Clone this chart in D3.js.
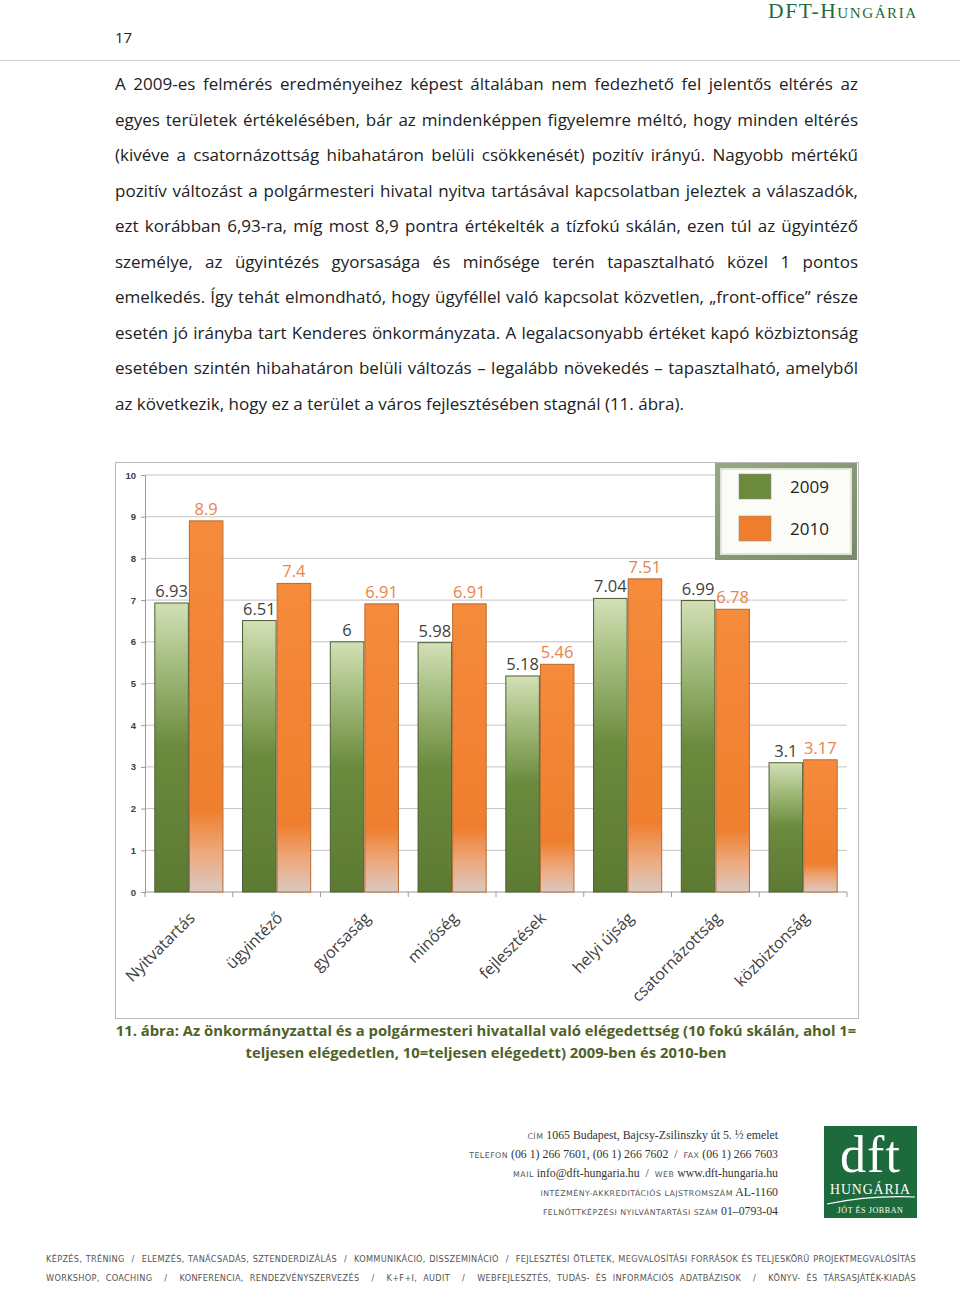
<!DOCTYPE html>
<html>
<head>
<meta charset="utf-8">
<script src="https://cdn.jsdelivr.net/npm/d3@7"></script>
<style>
  html, body { margin: 0; padding: 0; background: #fff; }
  #page { position: relative; width: 960px; height: 1289px; overflow: hidden; font-family: "Open Sans", "Noto Sans", sans-serif; color: #222; }
  .abs { position: absolute; }
  .line { position: absolute; left: 115px; width: 743px; white-space: nowrap; text-align: justify; text-align-last: justify; font-size: 17px; }
  .line.last { text-align-last: left; }
  .cap { position: absolute; left: 100px; width: 772px; text-align: center; font-weight: bold; color: #4f6228; font-size: 14.8px; white-space: nowrap; }
  .addr { position: absolute; right: 182px; text-align: right; font-family: "Liberation Serif", serif; font-size: 11.8px; color: #333; white-space: nowrap; }
  .addr .lb { font-family: "DejaVu Sans", sans-serif; font-size: 7.8px; letter-spacing: 0.5px; color: #555; }
  .foot { position: absolute; left: 46px; width: 870px; font-family: "DejaVu Sans", sans-serif; font-size: 8.2px; letter-spacing: 0.3px; color: #555; white-space: nowrap; text-align: justify; text-align-last: justify; }
</style>
</head>
<body>
<div id="page">
  <div class="abs" style="left:0;top:60px;width:960px;height:1px;background:#cfcfcf"></div>
  <div class="abs" style="left:768px;top:0px;font-family:'Liberation Serif',serif;font-variant:small-caps;font-size:21.5px;line-height:22px;color:#1e6a40;letter-spacing:1.6px">DFT-Hungária</div>
  <div class="abs" style="left:115px;top:27px;font-size:15px">17</div>
  <div id="text"></div>
  <div id="chart" class="abs" style="left:115px;top:462px"></div>
  <div class="cap" style="top:1020px">11. ábra: Az önkormányzattal és a polgármesteri hivatallal való elégedettség (10 fokú skálán, ahol 1=</div>
  <div class="cap" style="top:1042px">teljesen elégedetlen, 10=teljesen elégedett) 2009-ben és 2010-ben</div>

  <div class="addr" style="top:1128px"><span class="lb">CÍM</span> 1065 Budapest, Bajcsy-Zsilinszky út 5. ½ emelet</div>
  <div class="addr" style="top:1147px"><span class="lb">TELEFON</span> (06 1) 266 7601, (06 1) 266 7602 &nbsp;/&nbsp; <span class="lb">FAX</span> (06 1) 266 7603</div>
  <div class="addr" style="top:1166px"><span class="lb">MAIL</span> info@dft-hungaria.hu &nbsp;/&nbsp; <span class="lb">WEB</span> www.dft-hungaria.hu</div>
  <div class="addr" style="top:1185px"><span class="lb">INTÉZMÉNY-AKKREDITÁCIÓS LAJSTROMSZÁM</span> AL-1160</div>
  <div class="addr" style="top:1204px"><span class="lb">FELNŐTTKÉPZÉSI NYILVÁNTARTÁSI SZÁM</span> 01–0793-04</div>

  <svg class="abs" style="left:824px;top:1126px" width="93" height="92">
    <rect width="93" height="92" fill="#1d6b3d"/>
    <text x="46.5" y="46" text-anchor="middle" fill="#fff" font-family="Liberation Serif, serif" font-size="52" letter-spacing="1">dft</text>
    <text x="46.5" y="68" text-anchor="middle" fill="#fff" font-family="Liberation Serif, serif" font-size="13.8" letter-spacing="0.9">HUNGÁRIA</text>
    <path d="M3,78 Q46,69 91,71" fill="none" stroke="#fff" stroke-width="1.2"/>
    <text x="46.5" y="87" text-anchor="middle" fill="#fff" font-family="Liberation Serif, serif" font-size="8" letter-spacing="0.6">JÓT ÉS JOBBAN</text>
  </svg>

  <div class="foot" style="top:1254px">KÉPZÉS, TRÉNING &nbsp;/&nbsp; ELEMZÉS, TANÁCSADÁS, SZTENDERDIZÁLÁS &nbsp;/&nbsp; KOMMUNIKÁCIÓ, DISSZEMINÁCIÓ &nbsp;/&nbsp; FEJLESZTÉSI ÖTLETEK, MEGVALÓSÍTÁSI FORRÁSOK ÉS TELJESKÖRŰ PROJEKTMEGVALÓSÍTÁS</div>
  <div class="foot" style="top:1273px">WORKSHOP, COACHING &nbsp;/&nbsp; KONFERENCIA, RENDEZVÉNYSZERVEZÉS &nbsp;/&nbsp; K+F+I, AUDIT &nbsp;/&nbsp; WEBFEJLESZTÉS, TUDÁS- ÉS INFORMÁCIÓS ADATBÁZISOK &nbsp;/&nbsp; KÖNYV- ÉS TÁRSASJÁTÉK-KIADÁS</div>
</div>
<script>
const categories = ["Nyitvatartás", "ügyintéző", "gyorsaság", "minőség", "fejlesztések", "helyi újság", "csatornázottság", "közbiztonság"];
const years = ["2009", "2010"];
const values2009 = [6.93, 6.51, 6, 5.98, 5.18, 7.04, 6.99, 3.1];
const values2010 = [8.9, 7.4, 6.91, 6.91, 5.46, 7.51, 6.78, 3.17];
const yTicks = [0, 1, 2, 3, 4, 5, 6, 7, 8, 9, 10];

const paragraph = [
  "A 2009-es felmérés eredményeihez képest általában nem fedezhető fel jelentős eltérés az",
  "egyes területek értékelésében, bár az mindenképpen figyelemre méltó, hogy minden eltérés",
  "(kivéve a csatornázottság hibahatáron belüli csökkenését) pozitív irányú. Nagyobb mértékű",
  "pozitív változást a polgármesteri hivatal nyitva tartásával kapcsolatban jeleztek a válaszadók,",
  "ezt korábban 6,93-ra, míg most 8,9 pontra értékelték a tízfokú skálán, ezen túl az ügyintéző",
  "személye, az ügyintézés gyorsasága és minősége terén tapasztalható közel 1 pontos",
  "emelkedés. Így tehát elmondható, hogy ügyféllel való kapcsolat közvetlen, „front-office” része",
  "esetén jó irányba tart Kenderes önkormányzata. A legalacsonyabb értéket kapó közbiztonság",
  "esetében szintén hibahatáron belüli változás – legalább növekedés – tapasztalható, amelyből",
  "az következik, hogy ez a terület a város fejlesztésében stagnál (11. ábra)."
];

// body text, one justified line per row
d3.select("#text").selectAll("div")
  .data(paragraph)
  .enter()
  .append("div")
    .attr("class", (d, i) => i === paragraph.length - 1 ? "line last" : "line")
    .style("top", (d, i) => (72 + i * 35.5) + "px")
    .text(d => d);

// chart
const W = 744, H = 557;
const margin = {top: 13, right: 12, bottom: 127, left: 30};
const plotW = W - margin.left - margin.right,
      plotH = H - margin.top - margin.bottom;

const svg = d3.select("#chart")
  .append("svg")
    .attr("width", W)
    .attr("height", H)
    .style("font-family", "'Open Sans', 'Noto Sans', sans-serif");

const defs = svg.append("defs");
const gGreen = defs.append("linearGradient").attr("id", "gGreen").attr("x1", 0).attr("y1", 0).attr("x2", 0).attr("y2", 1);
[[0, "#d3e0b6"], [0.22, "#a2bb7c"], [0.5, "#6b8a3d"], [1, "#5d7a32"]]
  .forEach(s => gGreen.append("stop").attr("offset", s[0]).attr("stop-color", s[1]));
const gOrange = defs.append("linearGradient").attr("id", "gOrange").attr("x1", 0).attr("y1", 0).attr("x2", 0).attr("y2", 1);
[[0, "#f58b3b"], [0.78, "#ef7f2f"], [0.9, "#ecab80"], [1, "#dac8c2"]]
  .forEach(s => gOrange.append("stop").attr("offset", s[0]).attr("stop-color", s[1]));
const gLeg = defs.append("linearGradient").attr("id", "gLeg").attr("x1", 0).attr("y1", 0).attr("x2", 1).attr("y2", 1);
[[0, "#97a685"], [1, "#7a8a6a"]]
  .forEach(s => gLeg.append("stop").attr("offset", s[0]).attr("stop-color", s[1]));

// outer frame
svg.append("rect")
  .attr("x", 0.5).attr("y", 0.5)
  .attr("width", W - 1).attr("height", H - 1)
  .attr("fill", "#fff")
  .attr("stroke", "#b9b9b9");

const g = svg.append("g")
  .attr("transform", "translate(" + margin.left + "," + margin.top + ")");

const x0 = d3.scaleBand()
  .domain(categories)
  .range([0, plotW])
  .paddingInner(0.2)
  .paddingOuter(0.1);

const x1 = d3.scaleBand()
  .domain(years)
  .range([0, x0.bandwidth()])
  .padding(0.03);

const y = d3.scaleLinear()
  .domain([0, 10])
  .range([plotH, 0]);

// gridlines
g.append("g")
  .selectAll("line")
  .data(yTicks.filter(t => t > 0))
  .enter()
  .append("line")
    .attr("x1", 0).attr("x2", plotW)
    .attr("y1", d => y(d)).attr("y2", d => y(d))
    .attr("stroke", "#c4c4c4");

// y axis
const yAxis = g.append("g")
  .call(d3.axisLeft(y).tickValues(yTicks).tickSize(4).tickPadding(5));
yAxis.select(".domain").attr("stroke", "#9a9a9a");
yAxis.selectAll(".tick line").attr("stroke", "#9a9a9a");
yAxis.selectAll("text").attr("font-size", "9.5px").attr("fill", "#404040").attr("font-weight", "bold");

// x axis with ticks between categories
const xAxis = g.append("g").attr("transform", "translate(0," + plotH + ")");
xAxis.append("line").attr("x1", 0).attr("x2", plotW).attr("stroke", "#9a9a9a");
xAxis.selectAll(".sep")
  .data(d3.range(categories.length + 1))
  .enter()
  .append("line")
    .attr("x1", d => d * x0.step()).attr("x2", d => d * x0.step())
    .attr("y1", 0).attr("y2", 5)
    .attr("stroke", "#9a9a9a");
xAxis.selectAll(".lbl")
  .data(categories)
  .enter()
  .append("text")
    .attr("transform", d => "translate(" + (x0(d) + x0.bandwidth() / 2 + 7) + ",27) rotate(-45)")
    .attr("text-anchor", "end")
    .attr("font-size", "16px")
    .attr("fill", "#404040")
    .text(d => d);

// bars
const rows = categories.map((c, i) => ({cat: c, vals: [values2009[i], values2010[i]]}));
const grp = g.selectAll(".grp")
  .data(rows)
  .enter()
  .append("g")
    .attr("transform", d => "translate(" + x0(d.cat) + ",0)");

grp.selectAll("rect")
  .data(d => d.vals.map((v, j) => ({year: years[j], v: v})))
  .enter()
  .append("rect")
    .attr("x", d => x1(d.year))
    .attr("y", d => y(d.v))
    .attr("width", x1.bandwidth())
    .attr("height", d => plotH - y(d.v))
    .attr("fill", d => d.year === "2009" ? "url(#gGreen)" : "url(#gOrange)")
    .attr("stroke", d => d.year === "2009" ? "#4d5e37" : "#b8692f")
    .attr("stroke-width", 1);

grp.selectAll("text")
  .data(d => d.vals.map((v, j) => ({year: years[j], v: v})))
  .enter()
  .append("text")
    .attr("x", d => x1(d.year) + x1.bandwidth() / 2)
    .attr("y", d => y(d.v) - 6)
    .attr("text-anchor", "middle")
    .attr("font-size", "16.5px")
    .attr("fill", d => d.year === "2009" ? "#3f3f3f" : "#e9834c")
    .text(d => d.v);

// legend
const lg = svg.append("g").attr("transform", "translate(600,1)");
lg.append("rect")
  .attr("x", 2.5).attr("y", 2.5).attr("width", 137).attr("height", 92)
  .attr("fill", "#fbfcf8")
  .attr("stroke", "url(#gLeg)")
  .attr("stroke-width", 5);
lg.append("rect")
  .attr("x", 6).attr("y", 6).attr("width", 130).attr("height", 85)
  .attr("fill", "none")
  .attr("stroke", "#dfe6d4")
  .attr("stroke-width", 2);
const colors = {"2009": "#6b8a3d", "2010": "#f07d2c"};
const li = lg.selectAll(".li")
  .data(years)
  .enter()
  .append("g")
    .attr("transform", (d, i) => "translate(24," + (11 + i * 42) + ")");
li.append("rect")
  .attr("width", 32).attr("height", 25)
  .attr("fill", d => colors[d])
  .attr("stroke", "#8a8a8a").attr("stroke-opacity", 0.5);
li.append("text")
  .attr("x", 51).attr("y", 19)
  .attr("font-size", "17px")
  .attr("fill", "#222")
  .text(d => d);
</script>
</body>
</html>
